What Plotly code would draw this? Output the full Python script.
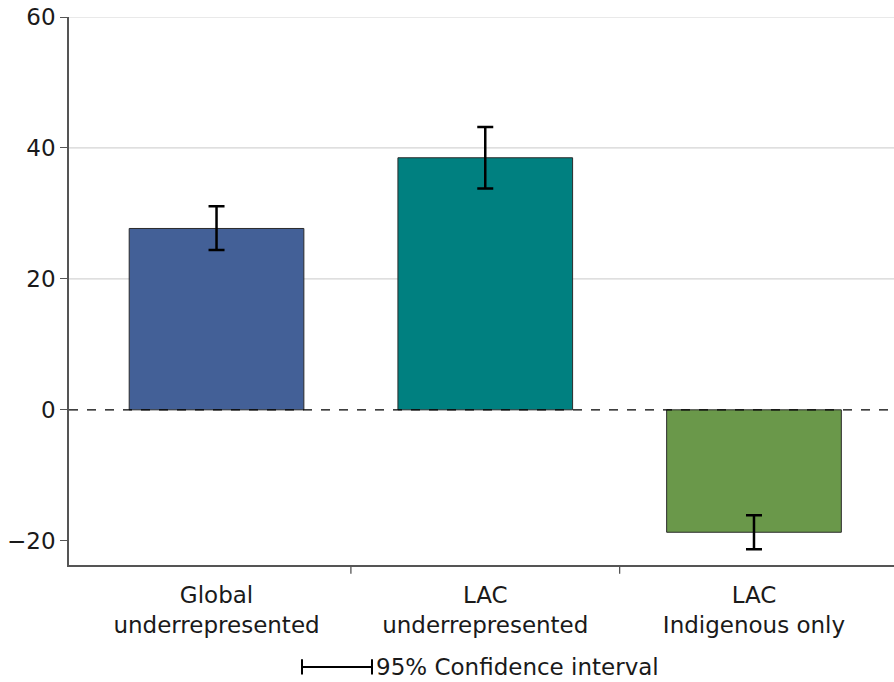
import plotly.graph_objects as go

# Estimated effects with 95% confidence intervals
categories = ["Global<br>underrepresented", "LAC<br>underrepresented", "LAC<br>Indigenous only"]
estimates = [27.7, 38.5, -18.7]
ci_low = [24.4, 33.8, -21.3]
ci_high = [31.1, 43.2, -16.1]
bar_colors = ["#436097", "#008080", "#6a984a"]
y_ticks = [-20, 0, 20, 40, 60]
grid_values = [20, 40, 60]

x_pos = list(range(len(categories)))
err_plus = [h - e for h, e in zip(ci_high, estimates)]
err_minus = [e - l for e, l in zip(estimates, ci_low)]

font_family = "DejaVu Sans, sans-serif"
text_size = 23

fig = go.Figure()

fig.add_trace(go.Bar(
    x=x_pos,
    y=estimates,
    width=0.65,
    marker=dict(color=bar_colors, line=dict(color="#2b2b2b", width=1)),
    error_y=dict(type="data", symmetric=False, array=err_plus, arrayminus=err_minus,
                 color="black", thickness=2.5, width=8),
    showlegend=False,
    hoverinfo="skip",
))

shapes = []
# light horizontal gridlines
for g in grid_values:
    shapes.append(dict(type="line", xref="paper", yref="y", x0=0, x1=1, y0=g, y1=g,
                       line=dict(color="#d4d4d4", width=1.2), layer="below"))
# dashed zero line
shapes.append(dict(type="line", xref="paper", yref="y", x0=0, x1=1, y0=0, y1=0,
                   line=dict(color="black", width=1.2, dash="dash"), layer="above"))
# separator ticks between categories
for i in range(len(categories) - 1):
    xs = x_pos[i] + 0.5
    shapes.append(dict(type="line", xref="x", yref="paper", x0=xs, x1=xs, y0=0, y1=-0.016,
                       line=dict(color="#555555", width=1.3)))

# legend glyph for the confidence interval
lx0, lx1, ly = (302 - 69) / 825, (372 - 69) / 825, -0.186
cap = 0.014
shapes.append(dict(type="line", xref="paper", yref="paper", x0=lx0, x1=lx1, y0=ly, y1=ly,
                   line=dict(color="black", width=2)))
for lx in (lx0, lx1):
    shapes.append(dict(type="line", xref="paper", yref="paper", x0=lx, x1=lx,
                       y0=ly - cap, y1=ly + cap, line=dict(color="black", width=2)))

fig.update_layout(
    width=894, height=682,
    margin=dict(l=69, r=0, t=17, b=117),
    paper_bgcolor="white", plot_bgcolor="white",
    font=dict(family=font_family, size=text_size, color="#1a1a1a"),
    shapes=shapes,
    xaxis=dict(
        range=[-0.549, 2.521],
        tickvals=x_pos, ticktext=categories,
        ticks="", showgrid=False, zeroline=False,
        showline=True, linecolor="#555555", linewidth=1.5,
        tickfont=dict(size=text_size, color="#1a1a1a"),
        ticklabelstandoff=9,
    ),
    yaxis=dict(
        range=[-23.7, 60],
        tickvals=y_ticks,
        ticks="outside", ticklen=7, tickcolor="#555555", tickwidth=1.3,
        showgrid=False, zeroline=False,
        showline=True, linecolor="#555555", linewidth=1.5,
        tickfont=dict(size=text_size, color="#1a1a1a"),
    ),
    annotations=[dict(
        xref="paper", yref="paper", x=(374 - 69) / 825, y=ly,
        xanchor="left", yanchor="middle", showarrow=False,
        text="95% Confidence interval", font=dict(size=text_size, color="#1a1a1a"),
    )],
)

fig.write_html("out.html")
